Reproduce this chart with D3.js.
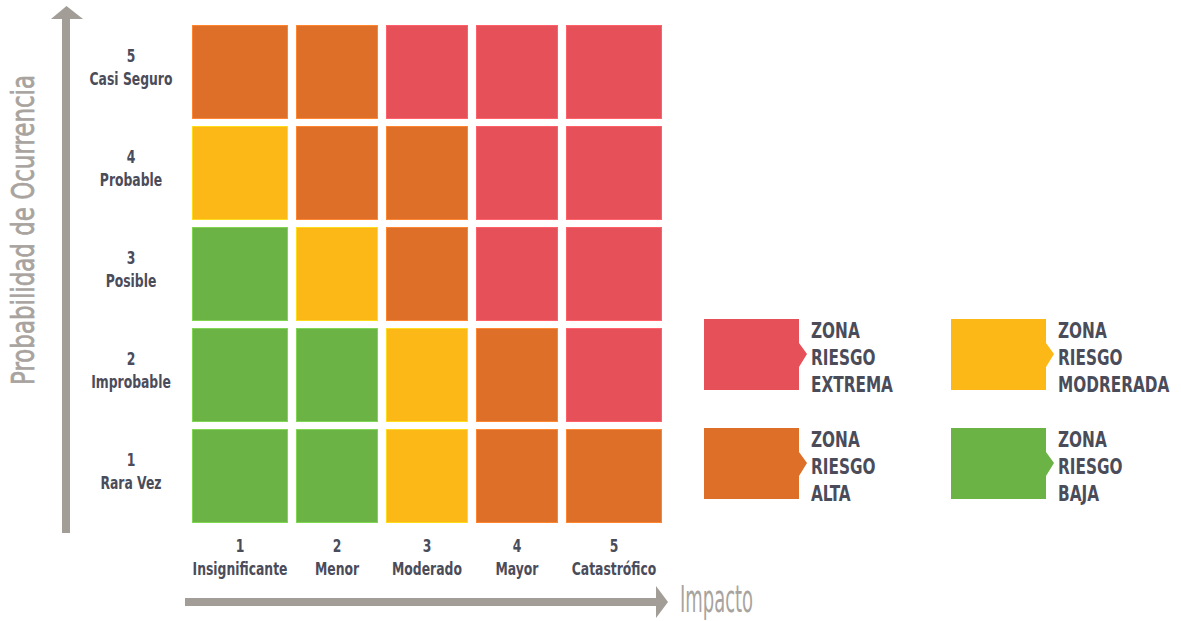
<!DOCTYPE html>
<html>
<head>
<meta charset="utf-8">
<script src="https://cdn.jsdelivr.net/npm/d3@7"></script>
<style>
  html, body { margin: 0; padding: 0; background: #fff; }
  svg { display: block; }
  .lbl { font-family: 'Liberation Sans Narrow', 'DejaVu Sans Condensed', sans-serif; font-weight: bold; fill: #4b4c5a; }
  .ttl { font-family: 'Liberation Sans Narrow', 'DejaVu Sans Condensed', sans-serif; fill: #a8a39e; }
</style>
</head>
<body>
<div id="chart"></div>
<script>
// impact (x) categories, left to right
var impactCodes = ['1', '2', '3', '4', '5'];
var impactNames = ['Insignificante', 'Menor', 'Moderado', 'Mayor', 'Catastrófico'];
// probability (y) categories, top to bottom
var probCodes = ['5', '4', '3', '2', '1'];
var probNames = ['Casi Seguro', 'Probable', 'Posible', 'Improbable', 'Rara Vez'];
// risk zone per cell, rows follow probCodes, columns follow impactCodes
var riskRows = [
  ['ALTA', 'ALTA', 'EXTREMA', 'EXTREMA', 'EXTREMA'],
  ['MODERADA', 'ALTA', 'ALTA', 'EXTREMA', 'EXTREMA'],
  ['BAJA', 'MODERADA', 'ALTA', 'EXTREMA', 'EXTREMA'],
  ['BAJA', 'BAJA', 'MODERADA', 'ALTA', 'EXTREMA'],
  ['BAJA', 'BAJA', 'MODERADA', 'ALTA', 'ALTA']
];
// legend entries (column-major: left column then right column)
var legendZones = ['EXTREMA', 'ALTA', 'MODERADA', 'BAJA'];
var legendLabels = [
  ['ZONA', 'RIESGO', 'EXTREMA'],
  ['ZONA', 'RIESGO', 'ALTA'],
  ['ZONA', 'RIESGO', 'MODRERADA'],
  ['ZONA', 'RIESGO', 'BAJA']
];
var yTitle = 'Probabilidad de Ocurrencia';
var xTitle = 'Impacto';

(function () {
  'use strict';

  const COLORS = {
    EXTREMA: '#e65058',
    ALTA: '#de6f28',
    MODERADA: '#fbb816',
    BAJA: '#6ab344',
    AXIS: '#a29d97'
  };
  // relative column widths (outer columns are wider in the original)
  const COL_SPAN = [104, 90, 90, 90, 104];
  const GAP = 8;
  // horizontal squeeze to mimic a condensed face
  const SQUEEZE = 0.81;

  var width = 1181;
  var height = 621;

  var svg = d3.select('#chart').append('svg')
    .attr('width', width)
    .attr('height', height);

  var cum = [0];
  COL_SPAN.forEach(function (s) { cum.push(cum[cum.length - 1] + s); });
  var xEdge = d3.scaleLinear()
    .domain([0, cum[cum.length - 1]])
    .range([192, 670]);

  var x = d3.scaleOrdinal()
    .domain(impactCodes)
    .range(impactCodes.map(function (d, i) { return xEdge(cum[i]); }));
  function colWidth(i) { return xEdge(cum[i + 1]) - xEdge(cum[i]) - GAP; }

  var y = d3.scaleBand()
    .domain(probCodes)
    .range([25, 523])
    .paddingInner(0.07);

  _drawCells();
  _drawAxes();
  _drawLegend();

  function _place(px, py) {
    return 'translate(' + px + ',' + py + ') scale(' + SQUEEZE + ',1)';
  }

  function _drawCells() {
    var cells = [];
    riskRows.forEach(function (row, r) {
      row.forEach(function (zone, c) {
        cells.push({ p: probCodes[r], i: impactCodes[c], col: c, zone: zone });
      });
    });

    svg.append('g').selectAll('rect')
      .data(cells)
      .enter()
      .append('rect')
      .attr('x', function (d) { return x(d.i) + 0.5; })
      .attr('y', function (d) { return y(d.p) + 0.5; })
      .attr('width', function (d) { return colWidth(d.col) - 1; })
      .attr('height', y.bandwidth() - 1)
      .attr('fill', function (d) { return COLORS[d.zone]; })
      .attr('stroke', function (d) { return d3.color(COLORS[d.zone]).brighter(0.5); })
      .attr('stroke-width', 1);
  }

  function _drawAxes() {
    // y arrow
    svg.append('rect')
      .attr('x', 62).attr('y', 16)
      .attr('width', 8).attr('height', 517)
      .attr('fill', COLORS.AXIS);
    svg.append('path')
      .attr('d', 'M51,19 L66.5,6 L83,19 Z')
      .attr('fill', COLORS.AXIS);

    // x arrow
    svg.append('rect')
      .attr('x', 185).attr('y', 598)
      .attr('width', 472).attr('height', 8)
      .attr('fill', COLORS.AXIS);
    svg.append('path')
      .attr('d', 'M656,586 L668,602 L656,618 Z')
      .attr('fill', COLORS.AXIS);

    // y labels
    var yl = svg.append('g').selectAll('g')
      .data(probCodes)
      .enter()
      .append('g');
    yl.append('text')
      .attr('class', 'lbl')
      .attr('text-anchor', 'middle')
      .attr('transform', function (d) { return _place(131, y(d) + y.bandwidth() / 2 - 10); })
      .style('font-size', '17px')
      .text(function (d) { return d; });
    yl.append('text')
      .attr('class', 'lbl')
      .attr('text-anchor', 'middle')
      .attr('transform', function (d) { return _place(131, y(d) + y.bandwidth() / 2 + 13); })
      .style('font-size', '17px')
      .text(function (d, i) { return probNames[i]; });

    // x labels
    var xl = svg.append('g').selectAll('g')
      .data(impactCodes)
      .enter()
      .append('g');
    xl.append('text')
      .attr('class', 'lbl')
      .attr('text-anchor', 'middle')
      .attr('transform', function (d, i) { return _place(x(d) + colWidth(i) / 2, 552); })
      .style('font-size', '17px')
      .text(function (d) { return d; });
    xl.append('text')
      .attr('class', 'lbl')
      .attr('text-anchor', 'middle')
      .attr('transform', function (d, i) { return _place(x(d) + colWidth(i) / 2, 575); })
      .style('font-size', '17px')
      .text(function (d, i) { return impactNames[i]; });

    // titles
    svg.append('text')
      .attr('class', 'ttl')
      .attr('transform', 'translate(34,230) rotate(-90)')
      .attr('text-anchor', 'middle')
      .attr('textLength', 310)
      .attr('lengthAdjust', 'spacingAndGlyphs')
      .style('font-size', '32px')
      .style('stroke', '#a8a39e')
      .style('stroke-width', 0.7)
      .text(yTitle);
    svg.append('text')
      .attr('class', 'ttl')
      .attr('x', 680).attr('y', 612)
      .attr('textLength', 73)
      .attr('lengthAdjust', 'spacingAndGlyphs')
      .style('font-size', '37px')
      .text(xTitle);
  }

  function _drawLegend() {
    var bw = 95, bh = 71;
    var lg = svg.append('g').selectAll('g')
      .data(legendZones)
      .enter()
      .append('g')
      .attr('transform', function (d, i) {
        var cx = i < 2 ? 704 : 951;
        var cy = i % 2 === 0 ? 319 : 428;
        return 'translate(' + cx + ',' + cy + ')';
      });

    lg.append('path')
      .attr('d', 'M0,0 H' + bw + ' V24 L' + (bw + 8) + ',35 L' + bw + ',48 V' + bh + ' H0 Z')
      .attr('fill', function (d) { return COLORS[d]; });

    lg.each(function (d, i) {
      d3.select(this).selectAll('text')
        .data(legendLabels[i])
        .enter()
        .append('text')
        .attr('class', 'lbl')
        .attr('transform', function (t, k) { return _place(107, 19 + k * 27); })
        .style('font-size', '21px')
        .text(function (t) { return t; });
    });
  }
}());
</script>
</body>
</html>
